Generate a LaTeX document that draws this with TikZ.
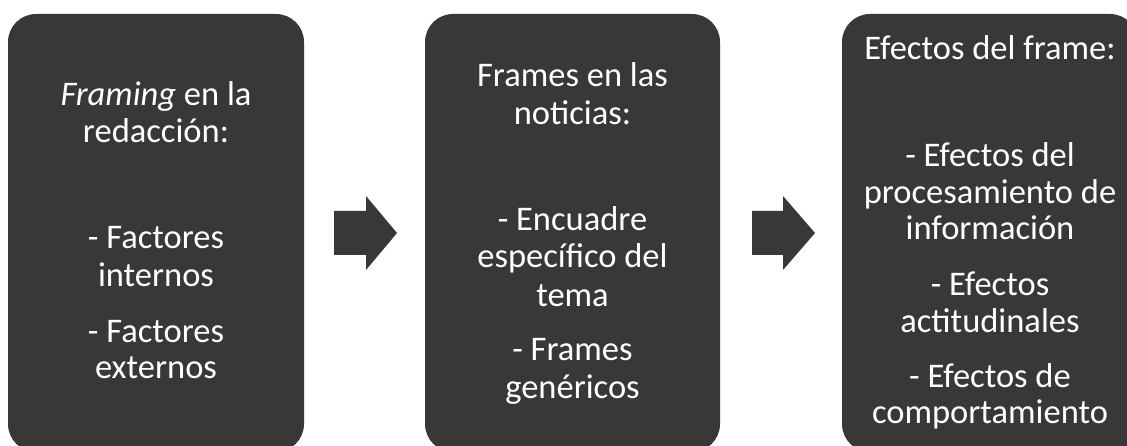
\documentclass[tikz,border=0pt]{standalone}
\usepackage{fontspec}
\setmainfont{Carlito}
\definecolor{boxgray}{HTML}{3A3836}
\tikzset{
  panel/.style={fill=boxgray, draw=none, rounded corners=28pt},
  ln/.style={anchor=base, text=white, inner sep=0pt, font=\fontsize{34.5}{36.5}\selectfont},
  blockarrow/.style={fill=boxgray, draw=none}
}
\begin{document}
\begin{tikzpicture}[x=1pt,y=-1pt]
\useasboundingbox (0,0) rectangle (1127,446);
\begin{scope}
\clip (0,0) rectangle (1127,446);
\fill[panel] (8,14) rectangle (304,452);
\fill[panel] (425,14) rectangle (720,452);
\fill[panel] (842,14) rectangle (1138,452);
\end{scope}
% arrows
\fill[blockarrow] (334,211) -- (366,211) -- (366,196) -- (397,233) -- (366,270) -- (366,255) -- (334,255) -- cycle;
\fill[blockarrow] (752,211) -- (783,211) -- (783,196) -- (815,233) -- (783,270) -- (783,255) -- (752,255) -- cycle;
% box 1
\node[ln] (a1) at (156,106) {\textit{Framing} en la};
\node[ln] (a2) at (156,143) {redacción:};
\node[ln] (a3) at (156,249) {- Factores};
\node[ln] (a4) at (156,287) {internos};
\node[ln] (a5) at (156,342) {- Factores};
\node[ln] (a6) at (156,378) {externos};
% box 2
\node[ln] (b1) at (572.5,87) {Frames en las};
\node[ln] (b2) at (572.5,125) {noticias:};
\node[ln] (b3) at (572.5,231) {- Encuadre};
\node[ln] (b4) at (572.5,268) {específico del};
\node[ln] (b5) at (572.5,306) {tema};
\node[ln] (b6) at (572.5,360) {- Frames};
\node[ln] (b7) at (572.5,398) {genéricos};
% box 3
\node[ln] (c1) at (990,60) {Efectos del frame:};
\node[ln] (c2) at (990,167) {- Efectos del};
\node[ln] (c3) at (990,204) {procesamiento de};
\node[ln] (c4) at (990,240) {información};
\node[ln] (c5) at (990,296) {- Efectos};
\node[ln] (c6) at (990,333) {actitudinales};
\node[ln] (c7) at (990,387) {- Efectos de};
\node[ln] (c8) at (990,423) {comportamiento};
\end{tikzpicture}
\end{document}
